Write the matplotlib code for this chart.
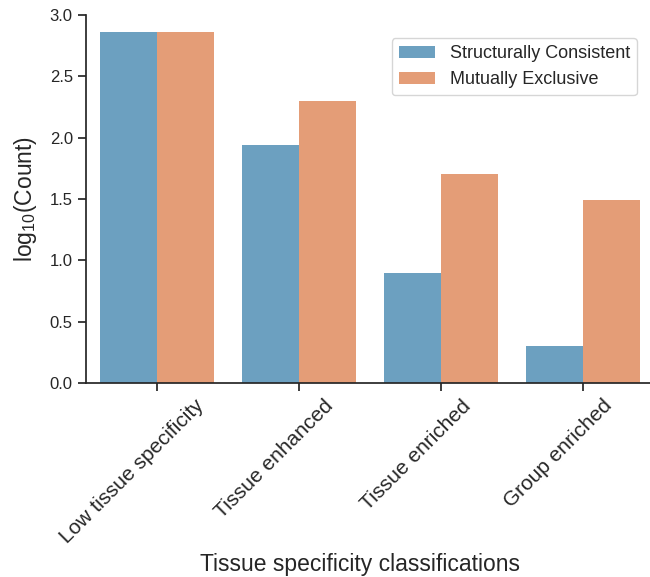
import matplotlib
matplotlib.use('Agg')
import matplotlib.pyplot as plt
import matplotlib.transforms as mtransforms
import numpy as np

# data
categories = ['Low tissue specificity', 'Tissue enhanced', 'Tissue enriched', 'Group enriched']
series_names = ['Structurally Consistent', 'Mutually Exclusive']
structurally_consistent = [2.86, 1.94, 0.90, 0.30]
mutually_exclusive = [2.86, 2.30, 1.70, 1.49]
colors = ['#6ca0c0', '#e49d77']

plt.rcParams['font.family'] = ['Liberation Sans', 'DejaVu Sans']
plt.rcParams['mathtext.fontset'] = 'custom'
plt.rcParams['mathtext.rm'] = 'Liberation Sans'
plt.rcParams['text.color'] = '#262626'
plt.rcParams['axes.labelcolor'] = '#262626'
plt.rcParams['xtick.color'] = '#262626'
plt.rcParams['ytick.color'] = '#262626'

fig = plt.figure(figsize=(6.5, 5.77), dpi=100)
ax = fig.add_axes([86/650, 194/577, 568/650, 368/577])

x = np.arange(len(categories))
w = 0.4
ax.bar(x - w/2, structurally_consistent, w, color=colors[0], label=series_names[0])
ax.bar(x + w/2, mutually_exclusive, w, color=colors[1], label=series_names[1])

ax.set_xlim(-0.5, len(categories) - 0.5)
ax.set_ylim(0, 3.0)
ax.set_yticks([0.0, 0.5, 1.0, 1.5, 2.0, 2.5, 3.0])
ax.set_yticklabels(['0.0', '0.5', '1.0', '1.5', '2.0', '2.5', '3.0'])
ax.tick_params(axis='y', labelsize=12, length=6, width=1.25)
ax.tick_params(axis='x', labelsize=15, length=6, width=1.25)

ax.set_xticks(x)
ax.set_xticklabels(categories, rotation=45, ha='center')
offset = mtransforms.ScaledTranslation(-25/100, 0, fig.dpi_scale_trans)
for lab in ax.get_xticklabels():
    lab.set_transform(lab.get_transform() + offset)

for s in ['top', 'right']:
    ax.spines[s].set_visible(False)
for s in ['left', 'bottom']:
    ax.spines[s].set_linewidth(1.25)
    ax.spines[s].set_color('#262626')

ax.set_ylabel(r'log$_{\mathregular{10}}$(Count)', fontsize=16.5, labelpad=8)
ax.set_xlabel('Tissue specificity classifications', fontsize=16.5, x=0.482)

leg = ax.legend(loc='upper right', bbox_to_anchor=(551/568, 345/368), borderaxespad=0,
                fontsize=13, frameon=True, edgecolor='#cccccc')

fig.savefig('out.png', dpi=100)
